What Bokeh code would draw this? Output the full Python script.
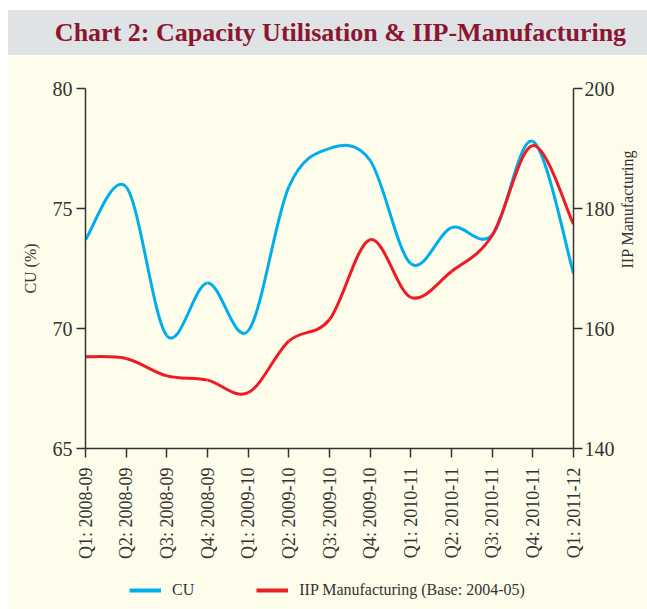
from bokeh.plotting import figure
from bokeh.models import (Range1d, LinearAxis, FixedTicker, Legend, LegendItem, Div,
                          ColumnDataSource)
from bokeh.layouts import column
from bokeh.embed import file_html
from bokeh.resources import INLINE

quarters = ["Q1: 2008-09", "Q2: 2008-09", "Q3: 2008-09", "Q4: 2008-09",
            "Q1: 2009-10", "Q2: 2009-10", "Q3: 2009-10", "Q4: 2009-10",
            "Q1: 2010-11", "Q2: 2010-11", "Q3: 2010-11", "Q4: 2010-11",
            "Q1: 2011-12"]
cu = [73.7, 75.9, 69.7, 71.9, 69.9, 75.9, 77.5, 77.0, 72.7, 74.2, 73.9, 77.8, 72.3]
iip = [155.3, 155.0, 152.1, 151.4, 149.3, 157.9, 161.5, 174.8, 165.2, 169.5, 175.5, 190.5, 177.4]
series_names = ["CU", "IIP Manufacturing (Base: 2004-05)"]

CREAM = "#fefcea"
GREY = "#dfe3e6"
AXC = "#333333"
BLUE = "#00aeef"
RED = "#ed1c24"
FONT = "Liberation Serif"


def smooth_segments(ys):
    """Catmull-Rom style Bezier control points for a smoothed line through the data."""
    n = len(ys)
    xs = list(range(n))
    seg = dict(x0=[], y0=[], x1=[], y1=[], cx0=[], cy0=[], cx1=[], cy1=[])
    for i in range(n - 1):
        im1 = max(i - 1, 0)
        ip2 = min(i + 2, n - 1)
        seg["x0"].append(xs[i]); seg["y0"].append(ys[i])
        seg["x1"].append(xs[i + 1]); seg["y1"].append(ys[i + 1])
        seg["cx0"].append(xs[i] + (xs[i + 1] - xs[im1]) / 6)
        seg["cy0"].append(ys[i] + (ys[i + 1] - ys[im1]) / 6)
        seg["cx1"].append(xs[i + 1] - (xs[ip2] - xs[i]) / 6)
        seg["cy1"].append(ys[i + 1] - (ys[ip2] - ys[i]) / 6)
    return ColumnDataSource(seg)


header = Div(text="Chart 2: Capacity Utilisation &amp; IIP-Manufacturing",
             width=639, height=45, margin=(10, 0, 0, 8),
             styles={"background-color": GREY, "color": "#8c1630",
                     "font-family": FONT, "font-weight": "bold", "font-size": "26px",
                     "text-align": "center", "line-height": "45px",
                     "width": "639px", "height": "45px", "padding-left": "26px",
                     "box-sizing": "border-box"})

p = figure(width=639, height=512, output_backend="svg", toolbar_location=None,
           x_range=Range1d(0, len(quarters) - 1), y_range=Range1d(65, 80),
           min_border_left=77, min_border_right=74, min_border_top=33,
           min_border_bottom=119, margin=(0, 0, 0, 8))
p.background_fill_color = CREAM
p.border_fill_color = CREAM
p.outline_line_color = None
p.grid.visible = False
p.extra_y_ranges = {"iip": Range1d(140, 200)}

for ax in (p.xaxis[0], p.yaxis[0]):
    ax.axis_line_color = AXC
    ax.axis_line_width = 1.5
    ax.major_tick_line_color = AXC
    ax.major_tick_line_width = 1.5
    ax.minor_tick_line_color = None
    ax.major_tick_in = 0
    ax.major_tick_out = 9
    ax.major_label_text_font = FONT
    ax.major_label_text_color = AXC

p.xaxis.ticker = FixedTicker(ticks=list(range(len(quarters))))
p.xaxis.major_label_overrides = {i: q for i, q in enumerate(quarters)}
p.xaxis.major_label_orientation = 1.5708
p.xaxis.major_label_text_font_size = "18px"
p.xaxis.major_label_standoff = 10

p.yaxis.ticker = FixedTicker(ticks=[65, 70, 75, 80])
p.yaxis.major_label_text_font_size = "20px"
p.yaxis.major_label_standoff = 4
p.yaxis.axis_label = "CU (%)"
p.yaxis.axis_label_text_font = FONT
p.yaxis.axis_label_text_font_style = "normal"
p.yaxis.axis_label_text_font_size = "16px"
p.yaxis.axis_label_text_color = AXC
p.yaxis.axis_label_standoff = 11

ry = LinearAxis(y_range_name="iip", ticker=FixedTicker(ticks=[140, 160, 180, 200]),
                axis_label="IIP Manufacturing")
ry.axis_line_color = AXC
ry.axis_line_width = 1.5
ry.major_tick_line_color = AXC
ry.major_tick_line_width = 1.5
ry.minor_tick_line_color = None
ry.major_tick_in = 0
ry.major_tick_out = 9
ry.major_label_standoff = 2
ry.major_label_text_font = FONT
ry.major_label_text_font_size = "20px"
ry.major_label_text_color = AXC
ry.axis_label_text_font = FONT
ry.axis_label_text_font_style = "normal"
ry.axis_label_text_font_size = "16px"
ry.axis_label_text_color = AXC
ry.axis_label_standoff = 10
ry.axis_label_orientation = 1.5708
p.add_layout(ry, "right")

src_cu = smooth_segments(cu)
src_iip = smooth_segments(iip)
p.bezier(x0="x0", y0="y0", x1="x1", y1="y1", cx0="cx0", cy0="cy0",
         cx1="cx1", cy1="cy1", source=src_cu, line_color=BLUE, line_width=3)
p.bezier(x0="x0", y0="y0", x1="x1", y1="y1", cx0="cx0", cy0="cy0",
         cx1="cx1", cy1="cy1", source=src_iip, line_color=RED, line_width=3,
         y_range_name="iip")

# separate strip holding the legend below the chart (proxy renderers draw nothing)
lg = figure(width=639, height=42, output_backend="svg", toolbar_location=None,
            x_range=Range1d(0, 1), y_range=Range1d(0, 1),
            min_border=0, margin=(0, 0, 0, 8))
lg.background_fill_color = CREAM
lg.border_fill_color = CREAM
lg.outline_line_color = None
lg.axis.visible = False
lg.grid.visible = False
nan = float("nan")
k_cu = lg.line(x=[nan], y=[nan], line_color=BLUE, line_width=4)
k_iip = lg.line(x=[nan], y=[nan], line_color=RED, line_width=4)
legend = Legend(items=[LegendItem(label=series_names[0], renderers=[k_cu]),
                       LegendItem(label=series_names[1], renderers=[k_iip])],
                orientation="horizontal", location=(44, 9),
                background_fill_alpha=0, border_line_color=None,
                label_text_font=FONT, label_text_font_size="16px", label_text_color=AXC,
                glyph_width=32, label_standoff=11, spacing=62, padding=4, margin=0)
lg.add_layout(legend, "center")

layout = column(header, p, lg, spacing=0)
open("out.html", "w").write(file_html(layout, INLINE))
